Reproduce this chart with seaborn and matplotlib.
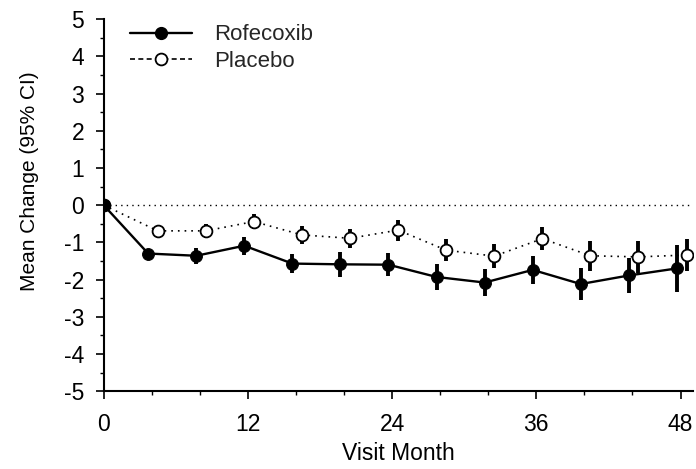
import numpy as np
import pandas as pd
import matplotlib
matplotlib.use("Agg")
import matplotlib.pyplot as plt
from matplotlib.lines import Line2D
from matplotlib.ticker import MultipleLocator
import seaborn as sns

# visit months and mean change (95% CI half-widths)
months = [0, 4, 8, 12, 16, 20, 24, 28, 32, 36, 40, 44, 48]
rofecoxib = [0, -1.30, -1.36, -1.09, -1.57, -1.59, -1.60, -1.93, -2.08, -1.74, -2.12, -1.89, -1.70]
rofecoxib_ci = [0, 0.10, 0.21, 0.24, 0.26, 0.34, 0.31, 0.35, 0.37, 0.38, 0.44, 0.48, 0.64]
placebo = [0, -0.69, -0.69, -0.44, -0.80, -0.89, -0.67, -1.21, -1.37, -0.90, -1.36, -1.39, -1.34]
placebo_ci = [0, 0.12, 0.18, 0.21, 0.24, 0.25, 0.28, 0.30, 0.33, 0.31, 0.40, 0.44, 0.43]

sns.set_style("ticks")
plt.rcParams['font.family'] = ['Liberation Sans', 'DejaVu Sans']
plt.rcParams['axes.unicode_minus'] = False

m = np.array(months, dtype=float)
# small horizontal dodge so the two groups don't overlap
x_rof = np.where(m > 0, m - 0.3, m)
x_pla = np.where(m > 0, m + 0.5, m)

df_rof = pd.DataFrame({'x': x_rof, 'y': rofecoxib, 'ci': rofecoxib_ci})
df_pla = pd.DataFrame({'x': x_pla, 'y': placebo, 'ci': placebo_ci})

fig = plt.figure(figsize=(6.96, 4.69), dpi=100)
ax = fig.add_axes([0.149, 0.166, 0.846, 0.793])

ax.axhline(0, color='black', linestyle=(0, (1, 3)), linewidth=1.0, zorder=1)

ax.errorbar(df_pla['x'], df_pla['y'], yerr=df_pla['ci'], fmt='none',
            ecolor='black', elinewidth=2.8, capsize=0, zorder=2)
ax.errorbar(df_rof['x'], df_rof['y'], yerr=df_rof['ci'], fmt='none',
            ecolor='black', elinewidth=2.8, capsize=0, zorder=2)

sns.lineplot(data=df_pla, x='x', y='y', ax=ax, color='black', linewidth=1.2,
             linestyle=(0, (1, 3)), marker='o', markersize=8.5,
             markerfacecolor='white', markeredgecolor='black', markeredgewidth=1.3,
             zorder=3)
sns.lineplot(data=df_rof, x='x', y='y', ax=ax, color='black', linewidth=1.7,
             marker='o', markersize=8.5, markerfacecolor='black',
             markeredgecolor='black', zorder=4)

ax.set_xlim(0, 49)
ax.set_ylim(-5, 5)
ax.set_xticks([0, 12, 24, 36, 48])
ax.xaxis.set_minor_locator(MultipleLocator(4))
ax.set_yticks(range(-5, 6))
ax.yaxis.set_minor_locator(MultipleLocator(0.5))
ax.tick_params(axis='both', which='major', labelsize=16.5, length=6, width=1.2,
               color='black', labelcolor='black')
ax.tick_params(axis='y', which='major', pad=8)
ax.tick_params(axis='x', which='major', pad=10)
ax.tick_params(axis='both', which='minor', length=3, width=1.0, color='black')

ax.set_xlabel('Visit Month', fontsize=16.5, color='black', labelpad=4)
ax.set_ylabel('Mean Change (95% CI)', fontsize=15, color='black')
ax.yaxis.set_label_coords(-0.11, 0.565)

sns.despine(ax=ax)
for s in ['left', 'bottom']:
    ax.spines[s].set_color('black')
    ax.spines[s].set_linewidth(1.5)

handles = [
    Line2D([], [], color='black', linewidth=1.7, marker='o', markersize=8.5,
           markerfacecolor='black', markeredgecolor='black'),
    Line2D([], [], color='black', linewidth=1.2, linestyle=(0, (3, 2)), marker='o',
           markersize=8.5, markerfacecolor='white', markeredgecolor='black',
           markeredgewidth=1.3),
]
ax.legend(handles, ['Rofecoxib', 'Placebo'], loc='upper left',
          bbox_to_anchor=(0.01, 1.04), frameon=False, fontsize=16,
          handlelength=2.8, handletextpad=1.0, labelspacing=0.25)

fig.savefig('out.png', dpi=100)
